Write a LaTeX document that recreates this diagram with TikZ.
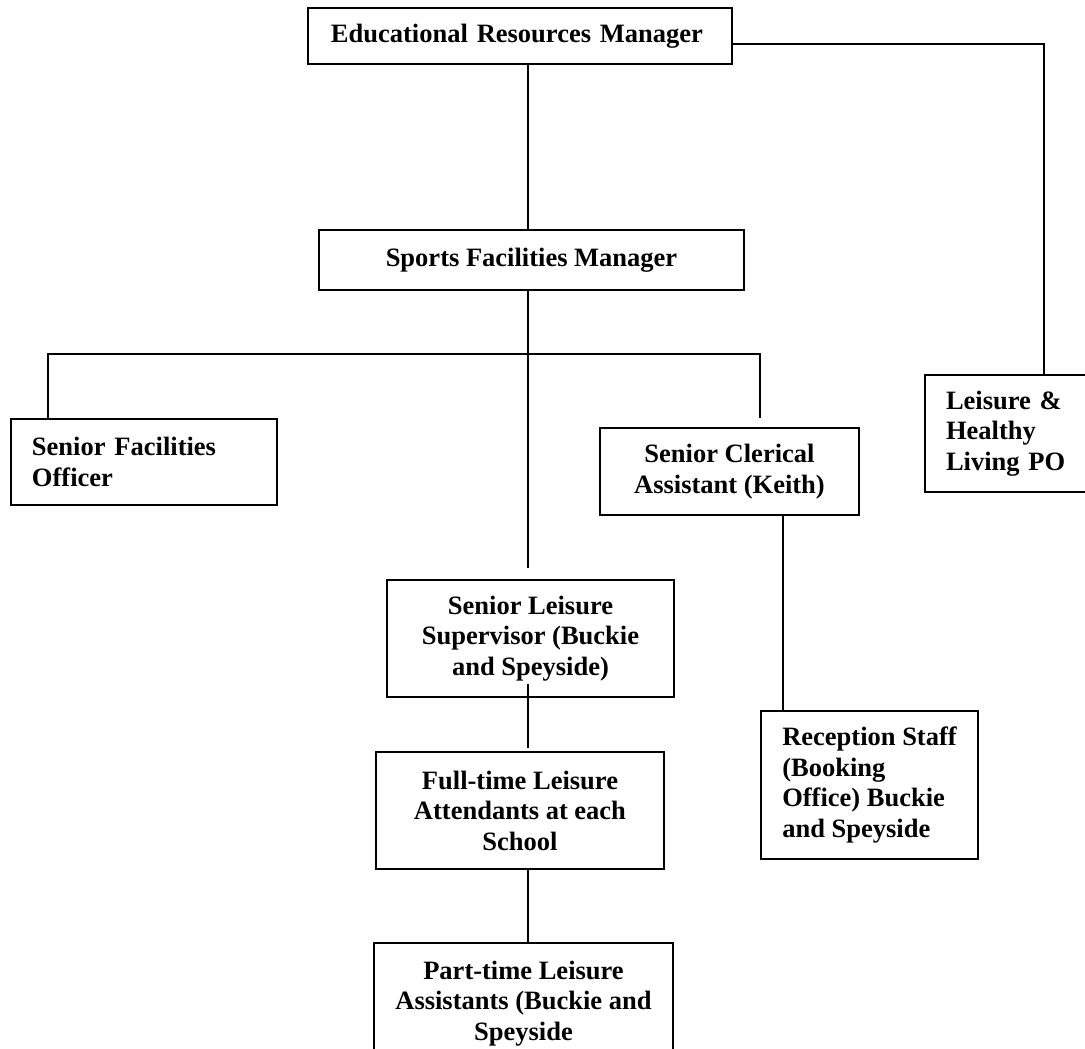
\documentclass[tikz,border=0pt]{standalone}
\usepackage{fontspec}
\setmainfont{Liberation Serif}
\usetikzlibrary{calc}
\newcommand{\px}{0.4528pt}

\begin{document}
\begin{tikzpicture}[x=\px, y=-\px,
  post/.style={draw, line width=0.9pt, anchor=north west, inner sep=0pt,
    font={\fontsize{12}{13.8}\selectfont\bfseries}},
  boxsize/.style 2 args={minimum width=#1*\px, minimum height=#2*\px},
  link/.style={line width=0.7pt}]
\useasboundingbox (0,0) rectangle (1085,1048);
\clip (0,0) rectangle (1085,1048);

% top of the chart
\node[post, boxsize={424}{56}, text width=378*\px, align=left] (erm) at (307,7) {Educational Resources Manager};
\node[post, boxsize={425}{60}, align=center] (sfm) at (318,229) {Sports Facilities Manager};
\node[post, boxsize={238}{117}, text width=196*\px, align=left] (leisure) at (924,374) {Leisure \&\\Healthy\\Living PO};

% second row
\node[post, boxsize={266}{86}, text width=224*\px, align=left] (sfo) at (10,418) {Senior Facilities\\Officer};
\node[post, boxsize={259}{87}, align=center] (clerical) at (599,427) {Senior Clerical\\Assistant (Keith)};

% leisure staff and reception
\node[post, boxsize={287}{117}, align=center] (sls) at (386,579) {Senior Leisure\\Supervisor (Buckie\\and Speyside)};
\node[post, boxsize={288}{117}, align=center] (ftla) at (375,751) {Full-time Leisure\\Attendants at each\\School};
\node[post, boxsize={217}{148}, align=left] (reception) at (760,710) {Reception Staff\\(Booking\\Office) Buckie\\and Speyside};
\node[post, boxsize={299}{121}, align=center] (ptla) at (373,942) {Part-time Leisure\\Assistants (Buckie and\\Speyside};

% where the lines run
\coordinate (spine) at (528,0);
\coordinate (lefttap) at (48,354);
\coordinate (righttap) at (760,354);
\coordinate (desk) at (783,0);

% connectors
\draw[link] (erm.south -| spine) -- (sfm.north -| spine);
\draw[link] ($(erm.east)+(0,8)$) -| (leisure.north);
\draw[link] (sfm.south -| spine) -- ($(sls.north -| spine)+(0,-11)$);
\draw[link] (sfo.north -| lefttap) -- (lefttap) -- (righttap) -- ($(clerical.north -| righttap)+(0,-9)$);
\draw[link] (clerical.south -| desk) -- (reception.north -| desk);
\draw[link] ($(sls.south -| spine)+(0,-14)$) -- ($(ftla.north -| spine)+(0,-3)$);
\draw[link] (ftla.south -| spine) -- (ptla.north -| spine);
\end{tikzpicture}
\end{document}
